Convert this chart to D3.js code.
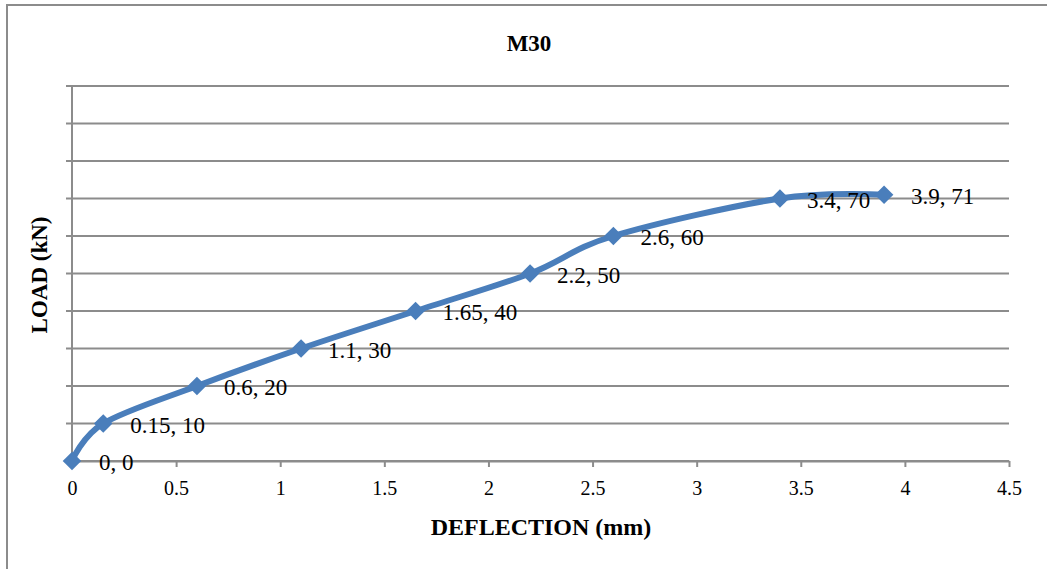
<!DOCTYPE html>
<html>
<head>
<meta charset="utf-8">
<script src="https://cdn.jsdelivr.net/npm/d3@7"></script>
<style>
  html, body { margin: 0; padding: 0; background: #fff; }
  svg { display: block; }
  text { font-family: "Liberation Serif", "Times New Roman", serif; fill: #000; }
</style>
</head>
<body>
<svg id="chart" width="1047" height="569"></svg>
<script>
// Load–deflection readings for the M30 specimen
const deflection = [0, 0.15, 0.6, 1.1, 1.65, 2.2, 2.6, 3.4, 3.9];
const load = [0, 10, 20, 30, 40, 50, 60, 70, 71];
const xTicks = [0, 0.5, 1, 1.5, 2, 2.5, 3, 3.5, 4, 4.5];
const yGrid = [0, 10, 20, 30, 40, 50, 60, 70, 80, 90, 100];

const svg = d3.select("#chart");
const W = 1047, H = 569;
const plot = { left: 72, right: 1009, top: 86, bottom: 461 };

// chart frame
svg.append("rect")
  .attr("x", 7).attr("y", 5)
  .attr("width", W + 10).attr("height", H + 10)
  .attr("fill", "#fff").attr("stroke", "#8c8c8c").attr("stroke-width", 2);

const x = d3.scaleLinear().domain([0, 4.5]).range([plot.left, plot.right]);
const y = d3.scaleLinear().domain([0, 100]).range([plot.bottom, plot.top]);

// horizontal gridlines with small outward ticks on the left
svg.append("g")
  .selectAll("line")
  .data(yGrid)
  .join("line")
  .attr("x1", plot.left - 6).attr("x2", plot.right)
  .attr("y1", d => y(d)).attr("y2", d => y(d))
  .attr("stroke", "#8c8c8c").attr("stroke-width", 2);

// vertical axis line
svg.append("line")
  .attr("x1", plot.left).attr("x2", plot.left)
  .attr("y1", plot.top).attr("y2", plot.bottom)
  .attr("stroke", "#8c8c8c").attr("stroke-width", 2);

// x axis
const xAxis = svg.append("g")
  .attr("transform", `translate(0,${plot.bottom})`)
  .call(d3.axisBottom(x).tickValues(xTicks).tickSize(6).tickSizeOuter(0).tickPadding(14)
    .tickFormat(d3.format("")));
xAxis.select(".domain").attr("stroke", "#8c8c8c").attr("stroke-width", 2);
xAxis.selectAll(".tick line").attr("stroke", "#8c8c8c").attr("stroke-width", 2);
xAxis.selectAll(".tick text")
  .attr("font-family", "Liberation Serif, serif")
  .attr("font-size", 20).attr("fill", "#000");

// data series
const pts = deflection.map((d, i) => [d, load[i]]);
const line = d3.line().x(d => x(d[0])).y(d => y(d[1])).curve(d3.curveCardinal.tension(0));

svg.append("path")
  .datum(pts)
  .attr("d", line)
  .attr("fill", "none")
  .attr("stroke", "#4a7ebb")
  .attr("stroke-width", 6)
  .attr("stroke-linejoin", "round")
  .attr("stroke-linecap", "round");

const diamond = d3.symbol().type(d3.symbolDiamond2).size(220);
svg.append("g")
  .selectAll("path")
  .data(pts)
  .join("path")
  .attr("d", diamond)
  .attr("transform", d => `translate(${x(d[0])},${y(d[1])})`)
  .attr("fill", "#4a7ebb");

// data labels
svg.append("g")
  .selectAll("text")
  .data(pts)
  .join("text")
  .attr("x", d => x(d[0]) + 27)
  .attr("y", d => y(d[1]) + 9)
  .attr("font-size", 23)
  .text(d => `${d[0]}, ${d[1]}`);

// titles
svg.append("text")
  .attr("x", 529).attr("y", 51)
  .attr("text-anchor", "middle")
  .attr("font-size", 23).attr("font-weight", "bold")
  .text("M30");

svg.append("text")
  .attr("x", 541).attr("y", 535)
  .attr("text-anchor", "middle")
  .attr("font-size", 24).attr("font-weight", "bold")
  .text("DEFLECTION (mm)");

svg.append("text")
  .attr("transform", "translate(47,275) rotate(-90)")
  .attr("text-anchor", "middle")
  .attr("font-size", 23).attr("font-weight", "bold")
  .text("LOAD (kN)");
</script>
</body>
</html>
